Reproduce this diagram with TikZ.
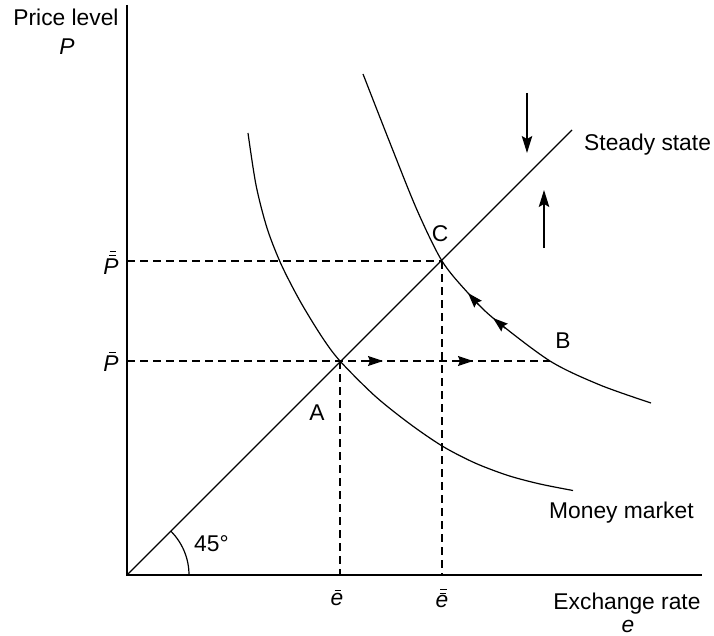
\documentclass[tikz,border=0pt]{standalone}
\usepackage{fontspec}
\setmainfont{Liberation Sans}
\usetikzlibrary{arrows.meta}
\newcommand\barone[3]{\rlap{\hspace*{#2}\raisebox{#3}{\rule{0.3em}{0.055em}}}#1}
\begin{document}
\begin{tikzpicture}[x=1pt,y=-1pt,
  every node/.style={font=\fontsize{22.8}{27}\selectfont, inner sep=0pt},
  axis/.style={line width=1.4pt},
  curve/.style={line width=1.2pt},
  guide/.style={line width=1.2pt, dash pattern=on 8pt off 5pt},
  head/.style={-{Stealth[length=15pt,width=10pt,inset=2pt]}, line width=1.2pt},
  bighead/.style={-{Stealth[length=17pt,width=10.5pt,inset=3pt]}, line width=1.3pt},
  lab/.style={anchor=base},
  labw/.style={anchor=base west}]
\useasboundingbox (0,0) rectangle (714,636);
% key points
\coordinate (O) at (127,575);
\coordinate (Ytop) at (127,5);
\coordinate (Xend) at (702,575);
\coordinate (A) at (340,361);
\coordinate (C) at (442,261);
\coordinate (SS) at (572,130);
\coordinate (Pb) at (127,361);
\coordinate (Pbb) at (127,261);
\coordinate (eb) at (340,575);
\coordinate (ebb) at (442,575);
\coordinate (Bx) at (550,361);
% axes
\draw[axis] (Ytop) -- (O) -- (Xend);
% steady state line
\draw[curve] (O) -- (SS);
% 45 degree arc
\coordinate (arcstart) at (189,575);
\draw[curve] (arcstart) arc[start angle=0,end angle=45,radius=62pt];
% money market curve
\draw[curve] plot[smooth] coordinates {(248,133) (256,185) (267,228) (281,264) (300,301) (322,337) (340,361) (375,396) (410,424) (443,446.5) (475,463) (508,475.5) (540,484) (573,490.5)};
% upper curve
\draw[curve] plot[smooth] coordinates {(363,74) (390,143) (417,210) (442,261) (468,293) (493,318) (550,361) (600,385) (651,403)};
% dashed guides
\draw[guide] (Pb) -- (Bx);
\draw[guide] (Pbb) -- (C);
\draw[guide] (A) -- (eb);
\draw[guide] (C) -- (ebb);
% arrowheads on dashed line
\coordinate (h1s) at (366,361); \coordinate (h1t) at (383,361);
\coordinate (h2s) at (456,361); \coordinate (h2t) at (473,361);
\draw[head] (h1s) -- (h1t);
\draw[head] (h2s) -- (h2t);
% arrowheads on curve
\coordinate (c1s) at (478.7,304.9); \coordinate (c1t) at (468,293);
\coordinate (c2s) at (505.3,328.2); \coordinate (c2t) at (493,318);
\draw[head] (c1s) -- (c1t);
\draw[head] (c2s) -- (c2t);
% vertical arrows
\coordinate (d1s) at (527,93); \coordinate (d1t) at (527,153);
\coordinate (u1s) at (544,248); \coordinate (u1t) at (544,190);
\draw[bighead] (d1s) -- (d1t);
\draw[bighead] (u1s) -- (u1t);
% labels
\node[lab] (plev) at (66,26) {Price level};
\node[lab] (pvar) at (67,55) {\textit{P}};
\node[lab] (pbb) at (111,274) {\barone{\barone{\textit{P}}{0.24em}{0.8em}}{0.27em}{0.95em}};
\node[lab] (pb) at (111,371) {\barone{\textit{P}}{0.24em}{0.8em}};
\node[lab] (ebl) at (337,605) {\barone{\textit{e}}{0.17em}{0.6em}};
\node[lab] (ebbl) at (442,607) {\barone{\barone{\textit{e}}{0.17em}{0.58em}}{0.2em}{0.73em}};
\node[lab] (xlab) at (627,609) {Exchange rate};
\node[lab] (evar) at (628,632) {\textit{e}};
\node[labw] (sslab) at (584,151) {Steady state};
\node[labw] (mmlab) at (549,518) {Money market};
\node[lab] (Alab) at (317,420) {A};
\node[lab] (Blab) at (563,348) {B};
\node[lab] (Clab) at (440,241) {C};
\node[labw] (anglab) at (194,551) {45°};
\end{tikzpicture}
\end{document}
